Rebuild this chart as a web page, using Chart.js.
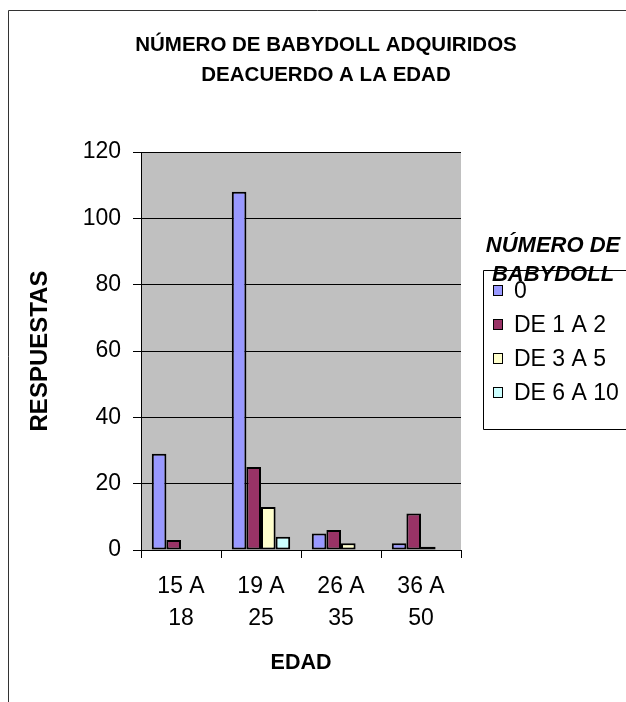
<!DOCTYPE html>
<html>
<head>
<meta charset="utf-8">
<script src="https://cdn.jsdelivr.net/npm/chart.js@4/dist/chart.umd.min.js"></script>
<style>
  body { margin: 0; background: #fff; }
  #wrap { width: 626px; height: 702px; }
</style>
</head>
<body>
<div id="wrap"><canvas id="grafico" width="626" height="702"></canvas></div>
<script>
// datos
let edades = [['15 A', '18'], ['19 A', '25'], ['26 A', '35'], ['36 A', '50']]
let serie0 = [29, 108, 5, 2]
let serie1a2 = [3, 25, 6, 11]
let serie3a5 = [0, 13, 2, 1]
let serie6a10 = [0, 4, 0, 0]
let nombresSeries = ['0', 'DE 1 A 2', 'DE 3 A 5', 'DE 6 A 10']
let coloresSeries = ['#9999FF', '#993366', '#FFFFCC', '#CCFFFF']
let titulo = ['NÚMERO DE BABYDOLL ADQUIRIDOS', 'DEACUERDO A LA EDAD']
let tituloLeyenda = ['NÚMERO DE', 'BABYDOLL']

let fuente = 'Arial, "Liberation Sans", sans-serif'

// fondo, marco, titulo y leyenda al estilo Excel
let estiloExcel = {
  id: 'estiloExcel',
  beforeDraw(chart) {
    let c = chart.ctx
    let a = chart.chartArea
    c.save()
    c.fillStyle = '#fff'
    c.fillRect(0, 0, chart.width, chart.height)
    c.strokeStyle = '#333'
    c.lineWidth = 1
    c.beginPath()
    c.moveTo(8.5, chart.height)
    c.lineTo(8.5, 10.5)
    c.lineTo(chart.width, 10.5)
    c.stroke()
    c.fillStyle = '#C0C0C0'
    c.fillRect(a.left, a.top, a.right - a.left, a.bottom - a.top)
    c.restore()
  },
  afterDraw(chart) {
    let c = chart.ctx
    c.save()
    // titulo
    c.fillStyle = '#000'
    c.textAlign = 'center'
    c.textBaseline = 'middle'
    c.font = 'bold 20.5px ' + fuente
    c.fillText(titulo[0], 326, 45)
    c.fillText(titulo[1], 326, 75)
    // caja de leyenda
    c.strokeStyle = '#000'
    c.lineWidth = 1
    c.beginPath()
    c.moveTo(chart.width, 270.5)
    c.lineTo(483.5, 270.5)
    c.lineTo(483.5, 429.5)
    c.lineTo(chart.width, 429.5)
    c.stroke()
    c.font = 'italic bold 22px ' + fuente
    c.fillText(tituloLeyenda[0], 553, 246)
    c.fillText(tituloLeyenda[1], 553, 275)
    // elementos de leyenda
    c.textAlign = 'left'
    c.font = '23px ' + fuente
    chart.data.datasets.forEach((ds, i) => {
      let y = 291 + i * 34
      c.fillStyle = ds.backgroundColor
      c.fillRect(493.5, y - 5.5, 9, 10)
      c.strokeStyle = '#000'
      c.strokeRect(493.5, y - 5.5, 9, 10)
      c.fillStyle = '#000'
      c.fillText(ds.label, 514, y + 1)
    })
    c.restore()
  }
}

let datasets = [serie0, serie1a2, serie3a5, serie6a10].map((d, i) => ({
  label: nombresSeries[i],
  data: d,
  backgroundColor: coloresSeries[i],
  borderColor: '#000',
  borderWidth: 2,
  borderSkipped: false,
  categoryPercentage: 0.73,
  barPercentage: 1
}))

let ctx = document.getElementById('grafico').getContext('2d')
let grafico = new Chart(ctx, {
  type: 'bar',
  data: { labels: edades, datasets: datasets },
  plugins: [estiloExcel],
  options: {
    responsive: false,
    animation: false,
    layout: { padding: { top: 152, right: 165, left: 0, bottom: 0 } },
    plugins: { legend: { display: false }, title: { display: false }, tooltip: { enabled: false } },
    scales: {
      x: {
        afterFit(scale) { scale.height = 152 },
        grid: { drawOnChartArea: false, color: '#000', tickLength: 8, offset: true },
        border: { color: '#000', width: 1 },
        ticks: { color: '#000', padding: 13, maxRotation: 0, font: { family: fuente, size: 23, lineHeight: 1.37 } },
        title: { display: true, text: 'EDAD', color: '#000', padding: { top: 0, bottom: 26 }, font: { family: fuente, size: 21.5, weight: 'bold' } }
      },
      y: {
        min: 0,
        max: 120,
        afterFit(scale) { scale.width = 141 },
        grid: { color: '#000', tickLength: 8 },
        border: { color: '#000', width: 1 },
        ticks: { stepSize: 20, color: '#000', padding: 12, font: { family: fuente, size: 23 } },
        title: { display: true, text: 'RESPUESTAS', color: '#000', padding: { top: 26, bottom: 0 }, font: { family: fuente, size: 24, weight: 'bold' } }
      }
    }
  }
})
</script>
</body>
</html>
